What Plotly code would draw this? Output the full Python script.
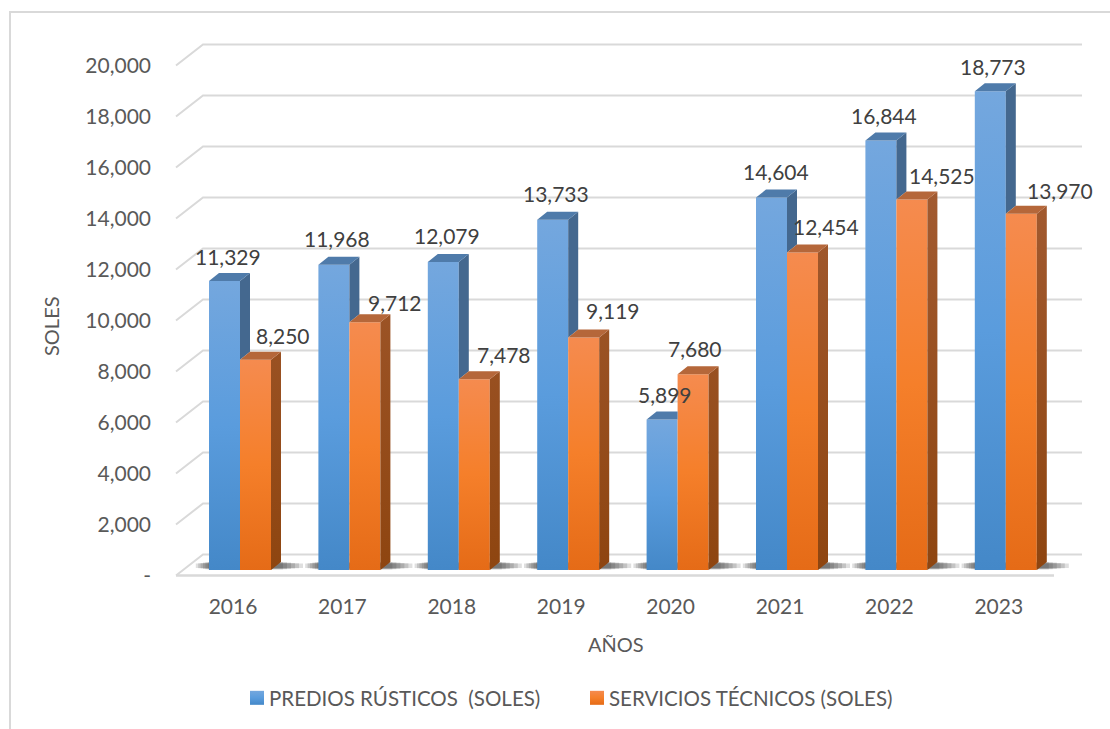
"""
Barras "3D" de predios rusticos y servicios tecnicos por año (soles).
"""
import plotly.graph_objects as go

YEARS = [2016, 2017, 2018, 2019, 2020, 2021, 2022, 2023]
PREDIOS = [11329, 11968, 12079, 13733, 5899, 14604, 16844, 18773]
SERVICIOS = [8250, 9712, 7478, 9119, 7680, 12454, 14525, 13970]
TICK_VALUES = [0, 2000, 4000, 6000, 8000, 10000, 12000, 14000, 16000, 18000, 20000]
TICK_LABELS = ["-", "2,000", "4,000", "6,000", "8,000", "10,000", "12,000", "14,000", "16,000", "18,000", "20,000"]

# desplazamiento manual de las etiquetas (pixeles respecto al centro de la barra / sobre la barra)
PREDIOS_LABEL_DX = [3.5, 3, 4, 3, 3, 4, 3, 3]
PREDIOS_LABEL_UP = [25, 26, 26, 26, 25, 26, 25, 25]
SERVICIOS_LABEL_DX = [27.5, 30, 30, 29, 2, 23, 30, 39]
SERVICIOS_LABEL_UP = [24, 20, 25, 27, 26, 26, 24.6, 23]

W, H = 1110, 729
PLOT_L, PLOT_R, PLOT_T, PLOT_B = 152, 1100, 20, 590
PX_PER_YEAR = 109.4
PX_PER_SOL = 0.0255
X0_PX, Y0_PX = 240, 570  # centro del 2016 y base de las barras

BAR_PX = 31
DEPTH_X_PX, DEPTH_Y_PX = 10, 8

GRID = "#D9D9D9"
TICK_COLOR = "#595959"
LABEL_COLOR = "#404040"
FONT = "Lato"


def dx(px):
    return px / PX_PER_YEAR


def dy(px):
    return px / PX_PER_SOL


def x_at(px):
    return YEARS[0] + dx(px - X0_PX)


def y_at(px):
    return dy(Y0_PX - px)


def paper_x(px):
    return (px - PLOT_L) / (PLOT_R - PLOT_L)


def paper_y(px):
    return (PLOT_B - px) / (PLOT_B - PLOT_T)


def polygons(polys):
    xs, ys = [], []
    for poly in polys:
        for px_, py_ in poly + poly[:1]:
            xs.append(px_)
            ys.append(py_)
        xs.append(None)
        ys.append(None)
    return xs, ys


def face(polys, color):
    xs, ys = polygons(polys)
    return go.Scatter(x=xs, y=ys, mode="lines", fill="toself", fillcolor=color,
                      line=dict(width=0), hoverinfo="skip", showlegend=False)


bar_w, ox, oy = dx(BAR_PX), dx(DEPTH_X_PX), dy(DEPTH_Y_PX)
blue_side, blue_top, orange_side, orange_top = [], [], [], []
for year, vb, vo in zip(YEARS, PREDIOS, SERVICIOS):
    x0, x1, x2 = year - bar_w, year, year + bar_w
    # la cara lateral azul queda tapada por la barra naranja
    if vb > vo:
        blue_side.append([(x1, vb), (x1 + ox, vb + oy), (x1 + ox, vo + oy), (x1, vo)])
        blue_top.append([(x0, vb), (x1, vb), (x1 + ox, vb + oy), (x0 + ox, vb + oy)])
    else:
        blue_top.append([(x0, vb), (x1, vb), (x1, vb + oy), (x0 + ox, vb + oy)])
    orange_side.append([(x2, vo), (x2 + ox, vo + oy), (x2 + ox, oy), (x2, 0)])
    orange_top.append([(x1, vo), (x2, vo), (x2 + ox, vo + oy), (x1 + ox, vo + oy)])

fig = go.Figure()
fig.add_trace(go.Bar(x=YEARS, y=PREDIOS, name="PREDIOS RÚSTICOS  (SOLES)", marker=dict(color="#5B9BD5", line=dict(width=0)), hoverinfo="skip"))
fig.add_trace(go.Bar(x=YEARS, y=SERVICIOS, name="SERVICIOS TÉCNICOS (SOLES)", marker=dict(color="#ED7D31", line=dict(width=0)), hoverinfo="skip"))
fig.add_trace(face(blue_side, "#44688F"))
fig.add_trace(face(blue_top, "#4F7BAA"))
fig.add_trace(face(orange_side, "#97501F"))
fig.add_trace(face(orange_top, "#B5673A"))

# paredes: rejilla con tramo inclinado y linea de fondo
front_drop, back_rise = dy(5.5), dy(15.5)
for tick in TICK_VALUES:
    fig.add_shape(type="path", xref="x", yref="y", layer="below",
                  path=f"M {x_at(176)} {tick - front_drop} L {x_at(203)} {tick + back_rise} L {x_at(1082)} {tick + back_rise}",
                  line=dict(color=GRID, width=2))
fig.add_shape(type="line", xref="x", yref="y", layer="below", x0=x_at(176), x1=x_at(1054),
              y0=-front_drop, y1=-front_drop, line=dict(color=GRID, width=2.5))

# sombra sobre el piso: se desvanece a los lados de cada par de barras
for grow, thin in [(2, 0), (6, 0.3), (10, 0.6), (14, 0.9), (18, 1.2), (22, 1.5)]:
    for year in YEARS:
        fig.add_shape(type="rect", xref="x", yref="y", layer="below",
                      x0=year - bar_w - dx(grow * 0.6), x1=year + bar_w + ox + dx(grow),
                      y0=dy(0.5 + thin), y1=dy(8 - thin), fillcolor="rgba(40,40,40,0.15)", line=dict(width=0))

# etiquetas de datos
for series, offs, ups in [(PREDIOS, PREDIOS_LABEL_DX, PREDIOS_LABEL_UP), (SERVICIOS, SERVICIOS_LABEL_DX, SERVICIOS_LABEL_UP)]:
    shift = -bar_w / 2 if series is PREDIOS else bar_w / 2
    for year, val, off, up in zip(YEARS, series, offs, ups):
        fig.add_annotation(x=year + shift + dx(off), y=val + dy(up), text=f"{val:,}", showarrow=False,
                           font=dict(family=FONT, size=21, color=LABEL_COLOR), xanchor="center", yanchor="middle")

fig.add_annotation(xref="paper", yref="paper", x=paper_x(51), y=paper_y(326), xanchor="center", yanchor="middle",
                   text="SOLES", textangle=-90, showarrow=False, font=dict(family=FONT, size=20, color=TICK_COLOR))
fig.add_annotation(xref="paper", yref="paper", x=paper_x(616), y=paper_y(644), xanchor="center", yanchor="middle",
                   text="AÑOS", showarrow=False, font=dict(family=FONT, size=20, color=TICK_COLOR))

# marco del grafico
fig.add_shape(type="path", xref="paper", yref="paper", layer="below",
              path=f"M {paper_x(1115)} {paper_y(12)} L {paper_x(10)} {paper_y(12)} L {paper_x(10)} {paper_y(735)}",
              line=dict(color=GRID, width=2))

fig.update_layout(
    width=W, height=H,
    margin=dict(l=PLOT_L, r=W - PLOT_R, t=PLOT_T, b=H - PLOT_B, pad=0),
    paper_bgcolor="white", plot_bgcolor="rgba(0,0,0,0)",
    barmode="group", bargap=1 - 2 * BAR_PX / PX_PER_YEAR, bargroupgap=0,
    font=dict(family=FONT),
    legend=dict(orientation="h", x=paper_x(229), xanchor="left",
                y=paper_y(698), yanchor="middle",
                entrywidth=295, entrywidthmode="pixels", itemclick=False, itemdoubleclick=False,
                font=dict(family=FONT, size=20.5, color=TICK_COLOR)),
    xaxis=dict(range=[x_at(PLOT_L), x_at(PLOT_R)], tickmode="array", tickvals=YEARS, ticktext=[str(y) for y in YEARS],
               showgrid=False, zeroline=False, showline=False, ticks="", ticklabelshift=-7, ticklabelstandoff=2,
               tickfont=dict(family=FONT, size=21, color=TICK_COLOR)),
    yaxis=dict(range=[y_at(PLOT_B), y_at(PLOT_T)], tickmode="array", tickvals=TICK_VALUES, ticktext=TICK_LABELS,
               showgrid=False, zeroline=False, showline=False, ticks="", ticklabelshift=6,
               tickfont=dict(family=FONT, size=21, color=TICK_COLOR)),
)

# degradado vertical de las barras y de la leyenda
GRADIENTS = """
document.body.style.margin = 0;
var gd = document.getElementsByClassName('plotly-graph-div')[0];
var svg = gd.querySelector('svg.main-svg');
var ns = 'http://www.w3.org/2000/svg';
var defs = svg.querySelector('defs');
function grad(id, stops) {
  var g = document.createElementNS(ns, 'linearGradient');
  g.setAttribute('id', id); g.setAttribute('x1', 0); g.setAttribute('y1', 0); g.setAttribute('x2', 0); g.setAttribute('y2', 1);
  stops.forEach(function (s) {
    var st = document.createElementNS(ns, 'stop');
    st.setAttribute('offset', s[0]); st.setAttribute('stop-color', s[1]);
    g.appendChild(st);
  });
  defs.appendChild(g);
}
grad('gBlue', [[0, '#74A7DE'], [0.5, '#5A9CDD'], [1, '#4488C8']]);
grad('gOrange', [[0, '#F58B4F'], [0.5, '#F57F2A'], [1, '#E56B17']]);
grad('gSide', [[0, '#A25A30'], [1, '#8E4510']]);
var ids = ['gBlue', 'gOrange'];
gd.querySelectorAll('.barlayer .trace').forEach(function (t, i) {
  t.querySelectorAll('path').forEach(function (p) { p.style.fill = 'url(#' + ids[i] + ')'; });
});
gd.querySelectorAll('.legend .traces').forEach(function (t, i) {
  t.querySelectorAll('.legendpoints path').forEach(function (p) {
    p.style.fill = 'url(#' + ids[i] + ')';
    p.setAttribute('d', 'M7,7H-7V-7H7z');
    p.setAttribute('transform', 'translate(28,0)');
  });
});
gd.querySelectorAll('.scatterlayer .trace')[2].querySelectorAll('.js-fill').forEach(function (p) { p.style.fill = 'url(#gSide)'; });
"""

fig.write_html("out.html", post_script=GRADIENTS, config=dict(displayModeBar=False))
